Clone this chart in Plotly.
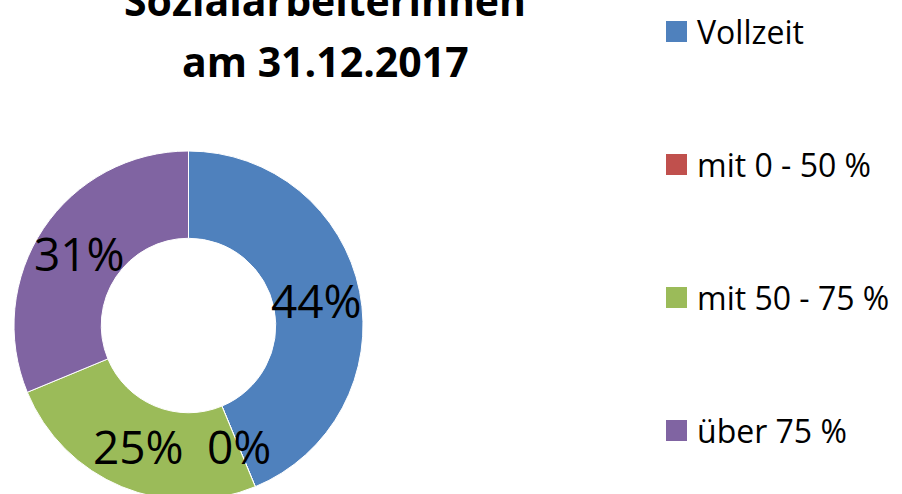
import math
import plotly.graph_objects as go

# ---- data ----
labels = ["Vollzeit", "mit 0 - 50 %", "mit 50 - 75 %", "über 75 %"]
values = [14, 0, 8, 10]
colors = ["#4F81BD", "#C0504D", "#9BBB59", "#8064A2"]
title_lines = ["Sozialarbeiterinnen", "am 31.12.2017"]

# ---- layout geometry (pixels) ----
W, H = 902, 512
CX, CY, R = 188.5, 325.5, 174.5
HOLE = 0.5
FONT = "Open Sans"

def px_x(x):
    return x / W

def px_y(y):
    return (H - y) / H

fig = go.Figure()
fig.add_trace(go.Pie(
    labels=labels,
    values=values,
    hole=HOLE,
    sort=False,
    direction="clockwise",
    rotation=0,
    marker=dict(colors=colors, line=dict(color="white", width=1)),
    textinfo="none",
    hoverinfo="label+percent",
    showlegend=False,
    domain=dict(x=[px_x(CX - R), px_x(CX + R)], y=[px_y(CY + R), px_y(CY - R)]),
))

annotations = []
shapes = []

# percentage labels at the middle of each ring segment
total = sum(values)
cum = 0.0
r_mid = R * (1 + HOLE) / 2
for v in values:
    frac = v / total
    theta = 2 * math.pi * (cum + frac / 2)
    cum += frac
    x = CX + r_mid * math.sin(theta)
    y = CY - r_mid * math.cos(theta)
    annotations.append(dict(
        x=px_x(x), y=px_y(y), xref="paper", yref="paper",
        text=f"{round(frac * 100)}%", showarrow=False,
        xanchor="center", yanchor="middle",
        font=dict(family=FONT, size=46, color="black"),
    ))

# title (first line partly outside the view, as in the original)
for i, line in enumerate(title_lines):
    annotations.append(dict(
        x=px_x(325), y=px_y(0 + 61 * i), xref="paper", yref="paper",
        text=f"<b>{line}</b>", showarrow=False,
        xanchor="center", yanchor="middle",
        font=dict(family=FONT, size=41, color="black"),
    ))

# legend
for i, (lab, col) in enumerate(zip(labels, colors)):
    cy = 31.5 + 133 * i
    shapes.append(dict(
        type="rect", xref="paper", yref="paper",
        x0=px_x(666), x1=px_x(687), y0=px_y(cy + 10.5), y1=px_y(cy - 10.5),
        fillcolor=col, line=dict(width=0),
    ))
    annotations.append(dict(
        x=px_x(695), y=px_y(cy), xref="paper", yref="paper",
        text=lab, showarrow=False, xanchor="left", yanchor="middle",
        font=dict(family=FONT, size=32, color="black"),
    ))

fig.update_layout(
    width=W, height=H,
    margin=dict(l=0, r=0, t=0, b=0),
    paper_bgcolor="white", plot_bgcolor="white",
    annotations=annotations, shapes=shapes,
    font=dict(family=FONT),
)

fig.write_html(
    "out.html",
    config={"displayModeBar": False},
    post_script="document.documentElement.style.overflow='hidden';"
                "document.body.style.margin='0';document.body.style.overflow='hidden';",
)
